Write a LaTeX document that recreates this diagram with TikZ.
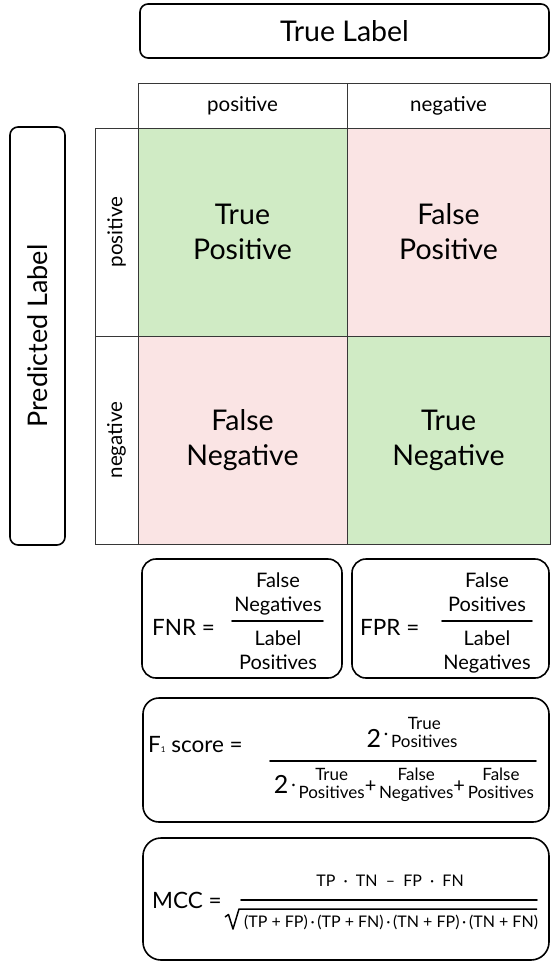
\documentclass[tikz,border=0pt]{standalone}
\usepackage{fontspec}
\setmainfont{Lato}
\usetikzlibrary{positioning}

\definecolor{truegreen}{RGB}{208,235,197}
\definecolor{falsepink}{RGB}{250,228,228}
\definecolor{gridgray}{RGB}{55,55,55}

% twee regels boven elkaar, basislijn op de onderste regel
\newcommand{\stackup}[2]{\begin{tabular}[b]{@{}c@{}}#1\\#2\end{tabular}}

\tikzset{
  roundbox/.style={draw=black, line width=1.6pt, rounded corners=#1, inner sep=0pt},
  roundbox/.default=8pt,
  gridcell/.style={draw=gridgray, line width=0.9pt, inner sep=0pt, align=center},
  bigtext/.style={font=\fontsize{28.5}{35}\selectfont},
  headtext/.style={font=\fontsize{20.5}{24}\selectfont},
  eqtext/.style={font=\fontsize{22.5}{26}\selectfont, inner sep=0pt},
  fractext/.style={font=\fontsize{20}{24}\selectfont, inner sep=0pt},
  smalltext/.style={font=\fontsize{17}{16.5}\selectfont, inner sep=0pt},
  mcctext/.style={font=\fontsize{16}{18}\selectfont, inner sep=0pt},
  fracbar/.style={line width=1.7pt, line cap=round},
}

\begin{document}
\begin{tikzpicture}[x=1pt, y=-1pt]
    \useasboundingbox (0,0) rectangle (550,962);

    % Kop met het echte label
    \node[roundbox, bigtext, minimum width=409pt, minimum height=54pt] (truelabel) at (344.5,31) {True Label};

    % Kolomkoppen
    \node[gridcell, headtext, minimum width=209pt, minimum height=45pt] (hpos) at (242.5,105.5) {positive};
    \node[gridcell, headtext, minimum width=203pt, minimum height=45pt] (hneg) at (448.5,105.5) {negative};

    % Rijkoppen (gedraaid)
    \node[gridcell, headtext, rotate=90, minimum width=208pt, minimum height=43pt] (vpos) at (116.5,232) {positive};
    \node[gridcell, headtext, rotate=90, minimum width=208pt, minimum height=43pt] (vneg) at (116.5,440) {negative};

    % De vier cellen van de matrix
    \node[gridcell, bigtext, fill=truegreen, minimum width=209pt, minimum height=208pt] (tp) at (242.5,232) {True\\Positive};
    \node[gridcell, bigtext, fill=falsepink, minimum width=203pt, minimum height=208pt] (fp) at (448.5,232) {False\\Positive};
    \node[gridcell, bigtext, fill=falsepink, minimum width=209pt, minimum height=208pt] (fn) at (242.5,440) {False\\Negative};
    \node[gridcell, bigtext, fill=truegreen, minimum width=203pt, minimum height=208pt] (tn) at (448.5,440) {True\\Negative};

    % Voorspeld label links
    \node[roundbox, font=\fontsize{27}{32}\selectfont, rotate=90, minimum width=418pt, minimum height=55pt] (predlabel) at (37.5,336) {Predicted Label};

    % FNR en FPR
    \node[roundbox=14pt, minimum width=200pt, minimum height=119pt] (fnrbox) at (242,618.5) {};
    \node[roundbox=14pt, minimum width=197pt, minimum height=119pt] (fprbox) at (450.5,618.5) {};

    \node[eqtext, anchor=base west] (fnrlhs) at (152,635) {FNR =};
    \draw[fracbar] (232,621) -- (323,621); % breukstreep FNR
    \node[fractext, anchor=base] (fnrnum) at (278,611) {\stackup{False}{Negatives}};
    \node[fractext, anchor=base] (fnrden) at (278,669) {\stackup{Label}{Positives}};

    \node[eqtext, anchor=base west] (fprlhs) at (360,635) {FPR =};
    \draw[fracbar] (442,621) -- (532,621); % breukstreep FPR
    \node[fractext, anchor=base] (fprnum) at (487,611) {\stackup{False}{Positives}};
    \node[fractext, anchor=base] (fprden) at (487,669) {\stackup{Label}{Negatives}};

    % F1 score
    \node[roundbox=16pt, minimum width=406pt, minimum height=124pt] (fonebox) at (346,760) {};
    \node[eqtext, anchor=base west] (fonelhs) at (148,752) {F{\fontsize{8}{8}\selectfont 1} score =};
    \draw[fracbar] (270,761) -- (536,761); % breukstreep F1
    \node[smalltext, anchor=base] (fonenum) at (412,747) {{\fontsize{25}{25}\selectfont 2}\,\raisebox{8pt}{·}\,\stackup{True}{Positives}};
    \node[smalltext, anchor=base] (foneden) at (404,798) {\raisebox{5pt}{\fontsize{25}{25}\selectfont 2}\,\raisebox{8pt}{·}\,\stackup{True}{Positives}\raisebox{5.5pt}{\fontsize{20}{20}\selectfont +}\,\stackup{False}{Negatives}\raisebox{5.5pt}{\fontsize{20}{20}\selectfont +}\,\stackup{False}{Positives}};

    % MCC
    \node[roundbox=18pt, minimum width=406pt, minimum height=122pt] (mccbox) at (346,899) {};
    \node[eqtext, anchor=base west] (mcclhs) at (152,908) {MCC =};
    \draw[fracbar] (241,900) -- (537,900); % breukstreep MCC
    \node[mcctext, anchor=base] (mccnum) at (390,886) {TP\ \ ·\ \ TN\ \ --\ \ FP\ \ ·\ \ FN};
    \draw[line width=1.5pt, line join=round] (225,917) -- (228.5,914.5) -- (233,929) -- (239,909) -- (537,909); % wortelteken
    \node[mcctext, anchor=base] (mccden) at (391,927) {(TP + FP)\,·\,(TP + FN)\,·\,(TN + FP)\,·\,(TN + FN)};

\end{tikzpicture}
\end{document}
